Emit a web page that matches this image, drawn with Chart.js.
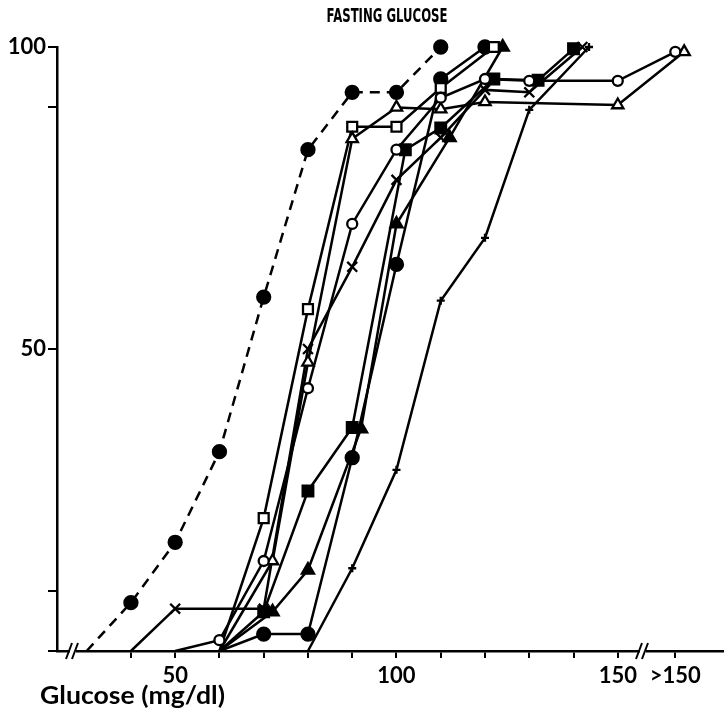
<!DOCTYPE html>
<html>
<head>
<meta charset="utf-8">
<script src="https://cdn.jsdelivr.net/npm/chart.js@4.4.1/dist/chart.umd.min.js"></script>
<style>
  html, body { margin: 0; padding: 0; background: #fff; }
  #wrap { width: 724px; height: 713px; position: relative; }
</style>
</head>
<body>
<div id="wrap"><canvas id="glucoseChart"></canvas></div>
<script>
// cumulative % by fasting glucose (mg/dl); 163 stands for the ">150" column
const dashedCircle = [[30, 0], [40, 8], [50, 18], [60, 33], [70, 58.6], [80, 83], [90, 92.5], [100, 92.5], [110, 100]];
const openCircle = [[50, 0], [60, 1.8], [70, 14.9], [80, 43.5], [90, 70.7], [100, 83], [110, 91.6], [120, 94.7], [130, 94.4], [150, 94.4], [163, 99.2]];
const openTriangle = [[60, 0], [72, 14.9], [80, 47.8], [90, 84.8], [100, 90], [110, 89.7], [120, 90.9], [150, 90.4], [165, 99.2]];
const openSquare = [[60, 0], [70, 22], [80, 56.6], [90, 86.8], [100, 86.8], [110, 93.2], [122, 100]];
const filledSquare = [[60, 0], [70, 6.5], [80, 26.5], [90, 37], [102, 83], [110, 86.6], [122, 94.7], [132, 94.5], [140, 99.7]];
const filledTriangle = [[60, 0], [72, 6.5], [80, 13.4], [92, 36.8], [100, 70.7], [112, 85], [124, 100]];
const filledCircle = [[60, 0], [70, 2.8], [80, 2.8], [90, 32], [100, 64], [110, 94.7], [120, 100]];
const crossSeries = [[40, 0], [50, 7], [70, 7], [80, 50], [90, 63.6], [100, 78], [110, 85], [120, 92.9], [130, 92.5], [142, 100]];
const plusSeries = [[80, 0], [90, 13.7], [100, 30], [110, 58], [120, 68.4], [130, 89.6], [143.5, 100]];

const xTicks = [40, 50, 60, 70, 80, 90, 100, 110, 120, 130, 140, 150, 163];
const xLabels = { 50: "50", 100: "100", 150: "150", 163: ">150" };
const yTicks = [0, 10, 50, 90, 100];
const yLabels = { 50: "50", 100: "100" };

const tickFont = "'Lato', 'DejaVu Sans', sans-serif";

function series(points, style, radius, filled, dashed) {
  return {
    data: points.map(p => ({ x: p[0], y: p[1] })),
    borderColor: "#000",
    borderWidth: 2.5,
    borderDash: dashed ? [10, 7] : [],
    pointStyle: style,
    // first point sits on the axis without a marker
    pointRadius: points.map((p, i) => (i === 0 && p[1] === 0 ? 0 : radius)),
    pointBackgroundColor: filled ? "#000" : "#fff",
    pointBorderColor: "#000",
    pointBorderWidth: 2.3,
    tension: 0,
    clip: false,
  };
}

// draw text squeezed/stretched to a given width
function fitText(ctx, text, x, y, width, align) {
  const w = ctx.measureText(text).width;
  ctx.save();
  ctx.translate(align === "center" ? x - width / 2 : x, y);
  ctx.scale(width / w, 1);
  ctx.textAlign = "left";
  ctx.fillText(text, 0, 0);
  ctx.restore();
}

const breakMarks = {
  id: "breakMarks",
  afterDraw(chart) {
    const ctx = chart.ctx;
    const area = chart.chartArea;
    const y = area.bottom;
    ctx.save();
    [73, 643].forEach(bx => {
      ctx.fillStyle = "#fff";
      ctx.fillRect(bx - 3, y - 3, 6, 6);
      ctx.strokeStyle = "#000";
      ctx.lineWidth = 2;
      ctx.beginPath();
      ctx.moveTo(bx - 7, y + 8); ctx.lineTo(bx - 1, y - 8);
      ctx.moveTo(bx - 1, y + 8); ctx.lineTo(bx + 5, y - 8);
      ctx.stroke();
    });
    ctx.fillStyle = "#000";
    ctx.textBaseline = "alphabetic";
    ctx.font = "bold 20px 'DejaVu Sans', sans-serif";
    fitText(ctx, "FASTING GLUCOSE", 387, 22, 121, "center");
    ctx.font = "bold 24px " + tickFont;
    fitText(ctx, "Glucose (mg/dl)", 40, 704, 185, "left");
    ctx.restore();
  },
};

new Chart(document.getElementById("glucoseChart"), {
  type: "line",
  data: {
    datasets: [
      series(dashedCircle, "circle", 6.5, true, true),
      series(openCircle, "circle", 5, false, false),
      series(openTriangle, "triangle", 6.5, false, false),
      series(openSquare, "rect", 7, false, false),
      series(filledSquare, "rect", 7.5, true, false),
      series(filledTriangle, "triangle", 7, true, false),
      series(filledCircle, "circle", 6.5, true, false),
      series(crossSeries, "crossRot", 7, false, false),
      series(plusSeries, "cross", 4, false, false),
    ],
  },
  options: {
    responsive: true,
    maintainAspectRatio: false,
    animation: false,
    layout: { autoPadding: false, padding: { top: 47, right: 0, left: 0, bottom: 0 } },
    plugins: {
      legend: { display: false },
      tooltip: { enabled: false },
      title: { display: false },
    },
    scales: {
      x: {
        type: "linear",
        min: 23.3,
        max: 174,
        afterBuildTicks: scale => { scale.ticks = xTicks.map(v => ({ value: v })); },
        afterFit: scale => {
          scale.height = 62;
          scale.paddingLeft = 0;
          scale.paddingRight = 0;
        },
        border: { display: true, color: "#000", width: 2.5 },
        grid: { display: true, drawOnChartArea: false, drawTicks: true, tickLength: 7, color: "#000", lineWidth: 2 },
        ticks: {
          autoSkip: false,
          maxRotation: 0,
          padding: 5,
          color: "#000",
          font: { family: tickFont, size: 22, weight: "bold" },
          callback: v => xLabels[v] || "",
        },
      },
      y: {
        min: 0,
        max: 100,
        afterBuildTicks: scale => { scale.ticks = yTicks.map(v => ({ value: v })); },
        afterFit: scale => { scale.width = 57; },
        border: { display: true, color: "#000", width: 2.5 },
        grid: { display: true, drawOnChartArea: false, drawTicks: true, tickLength: 9, color: "#000", lineWidth: 2 },
        ticks: {
          autoSkip: false,
          padding: 2,
          color: "#000",
          font: { family: tickFont, size: 22, weight: "bold" },
          callback: v => yLabels[v] || "",
        },
      },
    },
  },
  plugins: [breakMarks],
});
</script>
</body>
</html>
